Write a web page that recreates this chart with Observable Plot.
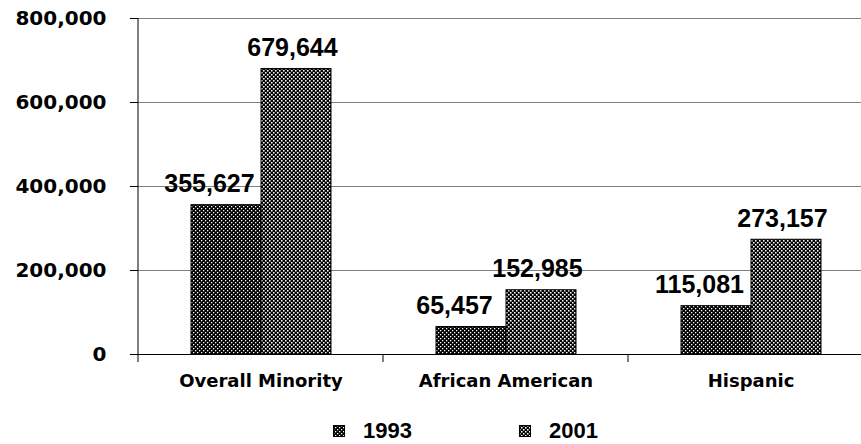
<!DOCTYPE html>
<html><head><meta charset="utf-8">
<script src="https://cdn.jsdelivr.net/npm/d3@7"></script>
<script src="https://cdn.jsdelivr.net/npm/@observablehq/plot@0.6"></script>
<style>
body{margin:0;background:#fff;width:861px;height:444px;overflow:hidden;position:relative}
#legend{position:absolute;left:0;top:417px;width:861px;height:28px;font-family:"Liberation Sans",Arial,sans-serif;font-weight:bold;font-size:22px;color:#000}
.item{position:absolute;top:0;display:flex;align-items:center;height:28px}
.item svg{margin-right:18px}
</style>
</head><body>
<svg width="0" height="0" style="position:absolute">
  <defs>
    <pattern id="p1993" patternUnits="userSpaceOnUse" width="4" height="4">
      <rect width="4" height="4" fill="#000"/>
      <rect x="0" y="0" width="1.3" height="1.3" fill="#fff"/>
      <rect x="2" y="2" width="1.3" height="1.3" fill="#fff"/>
    </pattern>
    <pattern id="p2001" patternUnits="userSpaceOnUse" width="4" height="4">
      <rect width="4" height="4" fill="#000"/>
      <rect x="0" y="0" width="1.55" height="1.55" fill="#fff"/>
      <rect x="2" y="2" width="1.55" height="1.55" fill="#fff"/>
    </pattern>
  </defs>
</svg>
<div id="chart"></div>
<div id="legend"></div>
<script>
const categories = ["Overall Minority", "African American", "Hispanic"];
const years = ["1993", "2001"];
const values1993 = [355627, 65457, 115081];
const values2001 = [679644, 152985, 273157];
const yTicks = [0, 200000, 400000, 600000, 800000];
const patterns = {"1993": "url(#p1993)", "2001": "url(#p2001)"};

const data = categories.flatMap((c, i) => [
  {category: c, year: years[0], value: values1993[i]},
  {category: c, year: years[1], value: values2001[i]}
]);
const d1993 = data.filter(d => d.year === years[0]);
const d2001 = data.filter(d => d.year === years[1]);
const fmt = d3.format(",");

let facetCount = 0;
const frameMark = (index, scales, values, dims) => {
  const g = d3.create("svg:g");
  const y0 = scales.y(0);
  const left = dims.marginLeft;
  g.append("line").attr("x1", left).attr("x2", left).attr("y1", y0).attr("y2", y0 + 8).attr("stroke", "#000");
  if (facetCount++ === 0) {
    g.append("line").attr("x1", left).attr("x2", left)
      .attr("y1", y0).attr("y2", scales.y(yTicks[yTicks.length - 1])).attr("stroke", "#000");
  }
  return g.node();
};

const valueText = {fontFamily: "Liberation Sans, Arial, sans-serif", fontWeight: "bold", fontSize: 25, fill: "#000"};

const plot = Plot.plot({
  width: 861, height: 400,
  marginTop: 18, marginLeft: 137, marginRight: -12, marginBottom: 46,
  style: {background: "#fff", color: "#000", overflow: "visible"},
  fx: {domain: categories, padding: 0, label: null},
  x: {domain: years, paddingInner: 0, paddingOuter: 0.75, axis: null},
  y: {domain: [0, 800000], label: null},
  marks: [
    Plot.ruleY(yTicks.slice(1), {stroke: "#808080", strokeWidth: 1}),
    Plot.barY(d1993, {fx: "category", x: "year", y: "value", fill: patterns["1993"], stroke: "#000", strokeWidth: 1}),
    Plot.barY(d2001, {fx: "category", x: "year", y: "value", fill: patterns["2001"], stroke: "#000", strokeWidth: 1}),
    Plot.text(d1993, {fx: "category", x: "year", y: "value", text: d => fmt(d.value), dy: -21, dx: -17, ...valueText}),
    Plot.text(d2001, {fx: "category", x: "year", y: "value", text: d => fmt(d.value), dy: -21, dx: -4, ...valueText}),
    Plot.ruleY([0], {stroke: "#000", strokeWidth: 1}),
    Plot.axisY({ticks: yTicks, tickFormat: fmt, tickSize: 8, tickPadding: 24, label: null,
      fontFamily: "DejaVu Sans, Verdana, sans-serif", fontWeight: "bold", fontSize: 20}),
    Plot.axisFx({anchor: "bottom", tickSize: 0, tickPadding: 20, label: null,
      fontFamily: "DejaVu Sans, Verdana, sans-serif", fontWeight: "bold", fontSize: 18}),
    frameMark
  ]
});
document.getElementById("chart").appendChild(plot);

const legend = document.getElementById("legend");
const legendLeft = {"1993": 333, "2001": 519};
years.forEach(y => {
  const item = document.createElement("div");
  item.className = "item";
  item.style.left = legendLeft[y] + "px";
  item.innerHTML = `<svg width="12" height="12"><rect x="0.5" y="0.5" width="11" height="11" fill="${patterns[y]}" stroke="#000"/></svg><span>${y}</span>`;
  legend.appendChild(item);
});
</script>
</body></html>
